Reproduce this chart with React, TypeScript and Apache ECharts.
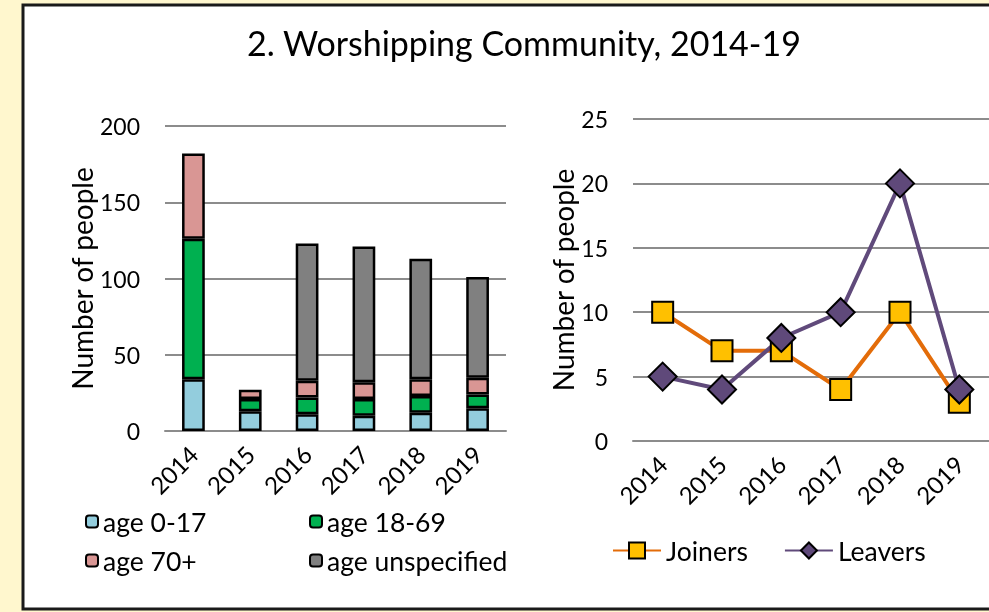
import React, { useEffect, useRef } from "react";
import * as echarts from "echarts";

const years = ["2014", "2015", "2016", "2017", "2018", "2019"];
const age0to17 = [34, 13, 11, 10, 12, 15];
const age18to69 = [92, 8, 11, 11, 11, 9];
const age70plus = [56, 6, 11, 11, 11, 11];
const ageUnspecified = [0, 0, 90, 89, 79, 66];
const joiners = [10, 7, 7, 4, 10, 3];
const leavers = [5, 4, 8, 10, 20, 4];
const leftTicks = { min: 0, max: 200, interval: 50 };
const rightTicks = { min: 0, max: 25, interval: 5 };

const FONT = "Lato, 'Noto Sans', sans-serif";
const GRID_COLOR = "#8c8c8c";

export default function App() {
  const ref = useRef<HTMLDivElement>(null);
  useEffect(() => {
    if (!ref.current) return;
    const chart = echarts.init(ref.current, undefined, { renderer: "svg" });
    const barSeries = (name: string, data: number[], color: string) => ({
      name,
      type: "bar",
      stack: "total",
      xAxisIndex: 0,
      yAxisIndex: 0,
      barWidth: "40%",
      data: data.map((v) => (v === 0 ? "-" : v)),
      itemStyle: { color, borderColor: "#000", borderWidth: 2.5 },
    });
    const legendText = { fontFamily: FONT, fontSize: 26.5, color: "#000" };
    const catAxis = (gridIndex: number) => ({
      type: "category",
      gridIndex,
      data: years,
      axisTick: { show: false },
      axisLine: { show: true, lineStyle: { color: GRID_COLOR, width: 2 } },
      axisLabel: {
        rotate: 45,
        margin: 19,
        fontFamily: FONT,
        fontSize: 24,
        color: "#000",
        interval: 0,
      },
    });
    const valAxis = (gridIndex: number, t: { min: number; max: number; interval: number }, nameGap: number) => ({
      type: "value",
      gridIndex,
      min: t.min,
      max: t.max,
      interval: t.interval,
      name: "Number of people",
      nameLocation: "middle",
      nameGap,
      nameTextStyle: { fontFamily: FONT, fontSize: 28, color: "#000" },
      axisLine: { show: false },
      axisTick: { show: false },
      splitLine: { lineStyle: { color: GRID_COLOR, width: 2 } },
      axisLabel: { margin: 25, fontFamily: FONT, fontSize: 23, color: "#000" },
    });
    const li = { itemWidth: 12, itemHeight: 12, textStyle: legendText, selectedMode: false };
    chart.setOption({
      animation: false,
      graphic: [
        { type: "rect", z: -10, shape: { x: 0, y: 0, width: 989, height: 612 }, style: { fill: "#FFF7CE" } },
        {
          type: "rect",
          z: -9,
          shape: { x: 23, y: 5, width: 980, height: 604 },
          style: { fill: "#fff", stroke: "#1a1a1a", lineWidth: 3 },
        },
      ],
      title: {
        text: "2. Worshipping Community, 2014-19",
        left: 519,
        top: 20,
        textAlign: "center",
        textStyle: { fontFamily: FONT, fontSize: 34, fontWeight: "normal", color: "#000" },
      },
      grid: [
        { left: 165, top: 126, width: 341, height: 305 },
        { left: 633, top: 119, width: 356, height: 322 },
      ],
      xAxis: [catAxis(0), catAxis(1)],
      yAxis: [valAxis(0, leftTicks, 66), valAxis(1, rightTicks, 54)],
      legend: [
        { data: ["age 0-17"], left: 80, top: 503, ...li },
        { data: ["age 18-69"], left: 304, top: 503, ...li },
        { data: ["age 70+"], left: 80, top: 542, ...li },
        { data: ["age unspecified"], left: 304, top: 542, ...li },
        {
          data: ["Joiners", "Leavers"],
          left: 607,
          top: 532,
          itemWidth: 48,
          itemHeight: 20,
          itemGap: 36,
          textStyle: legendText,
          selectedMode: false,
        },
      ],
      series: [
        barSeries("age 0-17", age0to17, "#93CDDD"),
        barSeries("age 18-69", age18to69, "#00B050"),
        barSeries("age 70+", age70plus, "#D99694"),
        barSeries("age unspecified", ageUnspecified, "#808080"),
        {
          name: "Joiners",
          type: "line",
          xAxisIndex: 1,
          yAxisIndex: 1,
          data: joiners,
          symbol: "rect",
          symbolSize: 21,
          lineStyle: { color: "#E36C09", width: 4 },
          itemStyle: { color: "#FFC000", borderColor: "#000", borderWidth: 2 },
        },
        {
          name: "Leavers",
          type: "line",
          xAxisIndex: 1,
          yAxisIndex: 1,
          data: leavers,
          symbol: "diamond",
          symbolSize: 28,
          lineStyle: { color: "#604A7B", width: 4 },
          itemStyle: { color: "#5F497A", borderColor: "#000", borderWidth: 2 },
        },
      ],
    });
    return () => chart.dispose();
  }, []);
  return (
    <div
      ref={ref}
      style={{ position: "fixed", left: 0, top: 0, width: 989, height: 612 }}
    />
  );
}
